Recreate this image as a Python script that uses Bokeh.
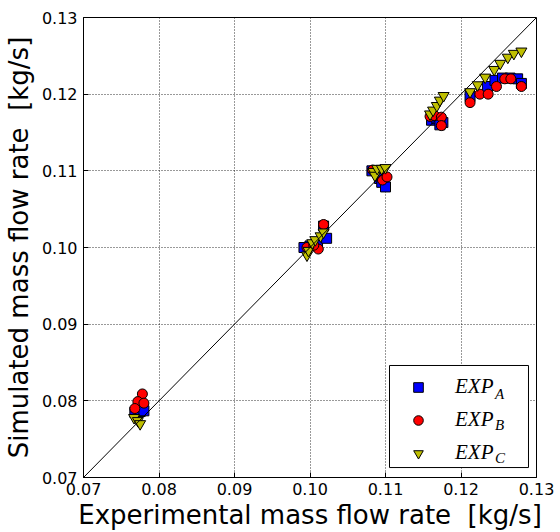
from bokeh.plotting import figure
from bokeh.models import Range1d, Legend, LegendItem, Label, FixedTicker, Slope, BoxAnnotation
from bokeh.embed import file_html
from bokeh.resources import INLINE

# ---- data ----
tick_values = [0.07, 0.08, 0.09, 0.10, 0.11, 0.12, 0.13]
tick_labels = ["0.07", "0.08", "0.09", "0.10", "0.11", "0.12", "0.13"]

expA_x = [0.0768, 0.0775, 0.0780,
          0.0992, 0.1000, 0.1010, 0.1022, 0.1018,
          0.1082, 0.1092, 0.1095, 0.1100,
          0.1161, 0.1168, 0.1176, 0.1172,
          0.1212, 0.1235, 0.1245, 0.1255, 0.1265, 0.1275, 0.1280]
expA_y = [0.0785, 0.0786, 0.0787,
          0.1000, 0.1002, 0.1005, 0.1012, 0.1028,
          0.1100, 0.1090, 0.1085, 0.1079,
          0.1166, 0.1168, 0.1163, 0.1160,
          0.1197, 0.1210, 0.1218, 0.1221, 0.1221, 0.1220, 0.1214]

expB_x = [0.0778, 0.0772, 0.0780, 0.0768,
          0.0996, 0.1011, 0.1005, 0.1018,
          0.1083, 0.1096, 0.1102,
          0.1159, 0.1165, 0.1174, 0.1174,
          0.1212, 0.1225, 0.1236, 0.1247, 0.1258, 0.1266, 0.1280]
expB_y = [0.0809, 0.0799, 0.0797, 0.0790,
          0.1000, 0.0998, 0.1003, 0.1030,
          0.1101, 0.1088, 0.1092,
          0.1171, 0.1172, 0.1170, 0.1159,
          0.1189, 0.1200, 0.1200, 0.1210, 0.1220, 0.1220, 0.1210]

expC_x = [0.0767, 0.0772, 0.0775,
          0.0996, 0.0998, 0.1003, 0.1007, 0.1014, 0.1018,
          0.1084, 0.1086, 0.1089, 0.1095, 0.1100,
          0.1159, 0.1163, 0.1168, 0.1172, 0.1177,
          0.1212, 0.1222, 0.1232, 0.1244, 0.1252, 0.1262, 0.1270, 0.1280]
expC_y = [0.0778, 0.0774, 0.0770,
          0.0990, 0.0996, 0.1006, 0.1010, 0.1015, 0.1020,
          0.1099, 0.1094, 0.1103, 0.1103, 0.1104,
          0.1174, 0.1179, 0.1185, 0.1192, 0.1198,
          0.1203, 0.1212, 0.1222, 0.1232, 0.1240, 0.1248, 0.1253, 0.1256]

series_names = ["A", "B", "C"]
legend_base = "EXP"

p = figure(frame_width=453, frame_height=460,
           x_range=Range1d(0.07, 0.13), y_range=Range1d(0.07, 0.13),
           output_backend="svg", toolbar_location=None,
           min_border_left=73, min_border_right=20,
           min_border_top=17, min_border_bottom=45,
           background_fill_color="white", border_fill_color="white")

p.outline_line_color = "black"
p.outline_line_alpha = 1
p.outline_line_width = 1

for ax in (p.xaxis[0], p.yaxis[0]):
    ax.ticker = FixedTicker(ticks=tick_values)
    ax.major_label_overrides = {v: s for v, s in zip(tick_values, tick_labels)}
    ax.major_tick_in = 5
    ax.major_tick_out = 0
    ax.minor_tick_line_color = None
    ax.axis_line_color = "black"
    ax.major_tick_line_color = "black"
    ax.major_label_text_font = "DejaVu Sans"
    ax.major_label_text_font_size = "16px"
    ax.major_label_text_color = "black"
    ax.axis_label_text_font = "DejaVu Sans"
    ax.axis_label_text_font_size = "26px"
    ax.axis_label_text_font_style = "normal"
    ax.axis_label_text_color = "black"

p.xaxis.axis_label = "Experimental mass flow rate\u00a0 [kg/s]"
p.yaxis.axis_label = "Simulated mass flow rate\u00a0 [kg/s]"
p.xaxis.major_label_standoff = 5
p.xaxis.axis_label_standoff = 2
p.yaxis.major_label_standoff = 6
p.yaxis.axis_label_standoff = 5

p.grid.grid_line_color = "black"
p.grid.grid_line_alpha = 0.8
p.grid.grid_line_dash = "1 2"
p.grid.grid_line_width = 1

p.add_layout(Slope(gradient=1, y_intercept=0, line_color="black", line_width=1))

rA = p.scatter(expA_x, expA_y, marker="square", size=10,
               fill_color="#0000ff", line_color="black", line_width=1)
rB = p.scatter(expB_x, expB_y, marker="circle", size=10,
               fill_color="#ff0000", line_color="black", line_width=1)
rC = p.scatter(expC_x, expC_y, marker="inverted_triangle", size=11,
               fill_color="#bfbf00", line_color="black", line_width=1)

# legend frame (white box with black border)
p.add_layout(BoxAnnotation(left=0.11053, right=0.12894, bottom=0.07130, top=0.08461,
                           fill_color="white", fill_alpha=1,
                           line_color="black", line_width=1, line_alpha=1,
                           editable=False, propagate_hover=False))

legend = Legend(items=[LegendItem(label=legend_base, renderers=[r]) for r in (rA, rB, rC)],
                location=(312, 12), orientation="vertical",
                padding=7, spacing=8, margin=0,
                glyph_width=46, glyph_height=24, label_height=24,
                label_width=65, label_standoff=14,
                label_text_font="Liberation Serif", label_text_font_style="italic",
                label_text_font_size="21px", label_text_color="black",
                border_line_color=None, border_line_alpha=0,
                background_fill_alpha=0)
p.add_layout(legend)

# legend subscripts
lx = 0.11934
for name, ly in zip(series_names, [0.08239, 0.07822, 0.07404]):
    p.add_layout(Label(x=lx, y=ly, x_offset=39, y_offset=-11, text=name,
                       text_font="Liberation Serif", text_font_style="italic",
                       text_font_size="15px", text_color="black",
                       text_baseline="alphabetic", level="overlay"))

open("out.html", "w").write(file_html(p, INLINE))
